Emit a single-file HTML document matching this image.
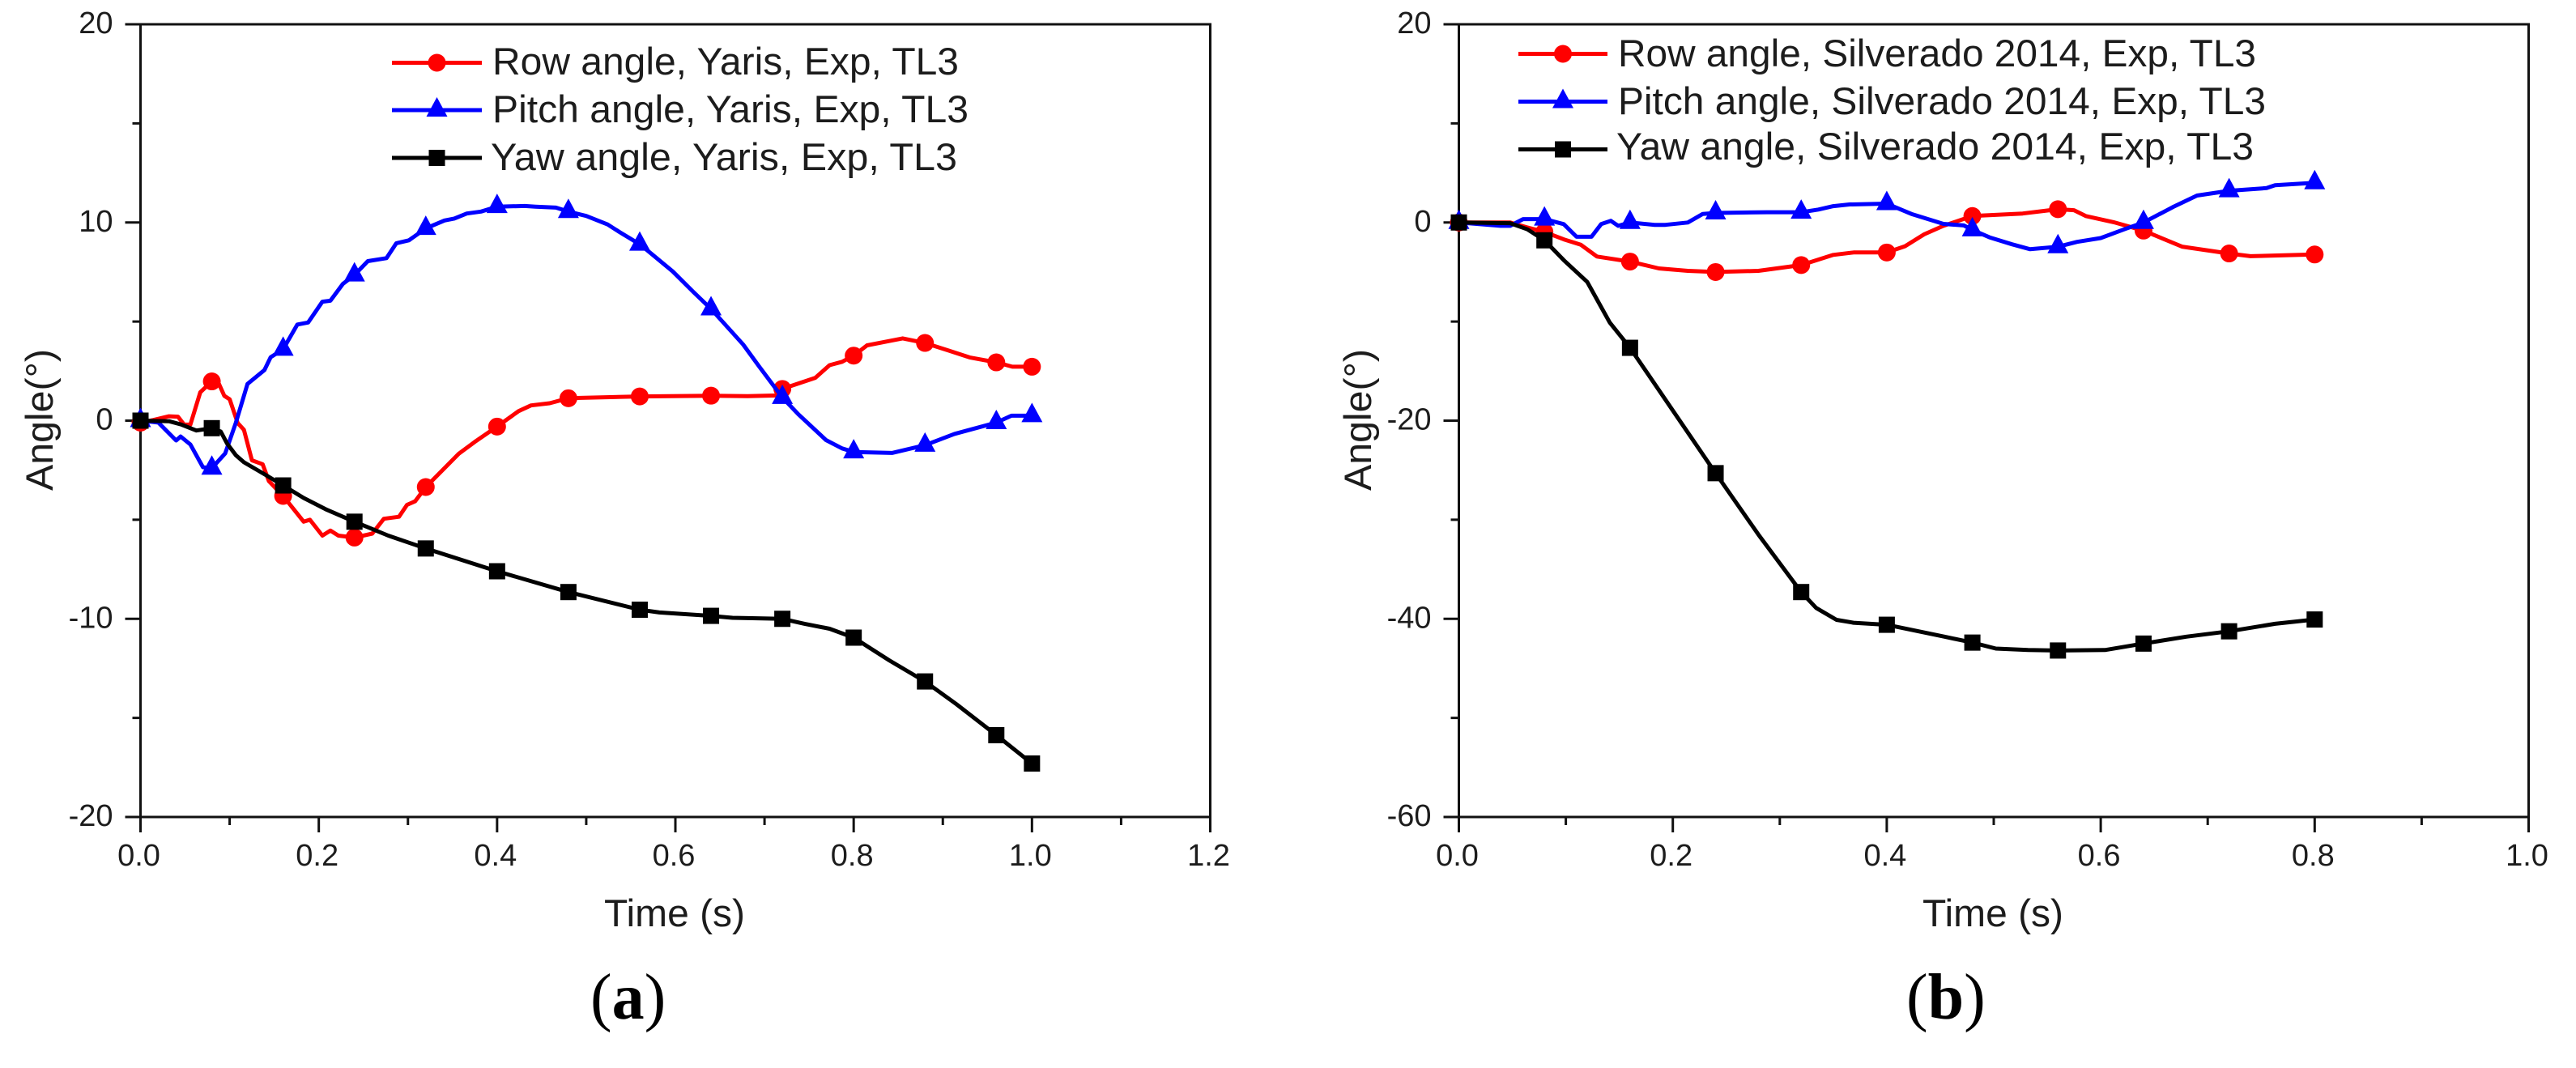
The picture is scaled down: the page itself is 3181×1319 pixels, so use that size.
<!DOCTYPE html>
<html lang="en">
<head>
<meta charset="utf-8">
<title>Row, pitch and yaw angle versus time</title>
<style>
html,body{margin:0;padding:0;background:#fff;width:3181px;height:1319px;overflow:hidden}
svg{display:block;position:absolute;left:0;top:0}
text{font-family:"Liberation Sans",Arial,sans-serif;fill:#1c1c1c}
.panel-label{font-family:"Liberation Serif","Times New Roman",serif;fill:#000}
</style>
</head>
<body>
<svg id="figure" xmlns="http://www.w3.org/2000/svg" width="3181" height="1319" viewBox="0 0 3181 1319">
  <rect x="0" y="0" width="3181" height="1319" fill="#ffffff"/>
  <g id="chart-a"></g>
  <g id="chart-b"></g>
  <text class="panel-label" x="729" y="1258" font-size="80">(<tspan font-weight="bold">a</tspan>)</text>
  <text class="panel-label" x="2354" y="1258" font-size="80">(<tspan font-weight="bold">b</tspan>)</text>
</svg>
<script>
/* ---------- Chart (a): Yaris ---------- */
const yarisXTicks = [0, 0.2, 0.4, 0.6, 0.8, 1.0, 1.2];
const yarisXMinor = [0.1, 0.3, 0.5, 0.7, 0.9, 1.1];
const yarisYTicks = [20, 10, 0, -10, -20];
const yarisYMinor = [15, 5, -5, -15];
const yarisMarkerTimes = [0, 0.08, 0.16, 0.24, 0.32, 0.40, 0.48, 0.56, 0.64, 0.72, 0.80, 0.88, 0.96, 1.0];

const yarisRowT = [0, 0.014, 0.032, 0.042, 0.049, 0.056, 0.067, 0.08, 0.088, 0.094, 0.1, 0.109, 0.116, 0.125, 0.137, 0.144, 0.16, 0.183, 0.19, 0.204, 0.213, 0.222, 0.24, 0.26, 0.273, 0.29, 0.299, 0.308, 0.32, 0.357, 0.375, 0.40, 0.424, 0.438, 0.459, 0.48, 0.56, 0.64, 0.681, 0.714, 0.72, 0.757, 0.773, 0.787, 0.80, 0.815, 0.838, 0.855, 0.88, 0.907, 0.93, 0.96, 0.978, 1.0];
const yarisRowV = [-0.1, 0.03, 0.22, 0.2, -0.2, -0.2, 1.43, 1.98, 1.85, 1.25, 1.08, -0.12, -0.46, -2.0, -2.2, -3.05, -3.8, -5.1, -5.0, -5.8, -5.55, -5.8, -5.9, -5.7, -4.95, -4.85, -4.25, -4.07, -3.35, -1.67, -1.07, -0.3, 0.48, 0.77, 0.88, 1.13, 1.22, 1.26, 1.24, 1.27, 1.6, 2.16, 2.8, 2.97, 3.28, 3.8, 4.0, 4.15, 3.92, 3.53, 3.19, 2.94, 2.72, 2.72];

const yarisPitchT = [0, 0.02, 0.04, 0.045, 0.056, 0.07, 0.08, 0.095, 0.107, 0.12, 0.139, 0.146, 0.16, 0.176, 0.188, 0.204, 0.213, 0.227, 0.24, 0.255, 0.276, 0.287, 0.301, 0.32, 0.341, 0.352, 0.366, 0.382, 0.40, 0.431, 0.443, 0.466, 0.48, 0.50, 0.524, 0.538, 0.56, 0.569, 0.597, 0.62, 0.64, 0.676, 0.694, 0.72, 0.738, 0.769, 0.787, 0.80, 0.843, 0.88, 0.913, 0.96, 0.977, 1.0];
const yarisPitchV = [0, -0.1, -1.0, -0.8, -1.2, -2.35, -2.4, -1.65, -0.1, 1.85, 2.55, 3.2, 3.6, 4.85, 4.95, 6.0, 6.05, 6.9, 7.35, 8.05, 8.2, 8.95, 9.1, 9.7, 10.1, 10.2, 10.45, 10.55, 10.8, 10.83, 10.8, 10.75, 10.55, 10.33, 9.9, 9.5, 8.9, 8.57, 7.53, 6.5, 5.64, 3.84, 2.73, 1.17, 0.32, -0.98, -1.4, -1.58, -1.63, -1.24, -0.67, -0.1, 0.25, 0.25];

const yarisYawT = [0, 0.032, 0.046, 0.0626, 0.08, 0.09, 0.097, 0.107, 0.116, 0.139, 0.16, 0.183, 0.209, 0.24, 0.278, 0.32, 0.40, 0.48, 0.56, 0.582, 0.64, 0.664, 0.72, 0.745, 0.773, 0.80, 0.84, 0.88, 0.915, 0.96, 1.0];
const yarisYawV = [0, -0.03, -0.2, -0.5, -0.38, -0.55, -1.15, -1.75, -2.1, -2.7, -3.27, -3.9, -4.5, -5.1, -5.8, -6.45, -7.6, -8.65, -9.54, -9.68, -9.85, -9.95, -10.0, -10.25, -10.5, -10.95, -12.1, -13.16, -14.3, -15.87, -17.3];

const yarisLegendLabels = ["Row angle, Yaris, Exp, TL3", "Pitch angle, Yaris, Exp, TL3", "Yaw angle, Yaris, Exp, TL3"];

/* ---------- Chart (b): Silverado 2014 ---------- */
const silvXTicks = [0, 0.2, 0.4, 0.6, 0.8, 1.0];
const silvXMinor = [0.1, 0.3, 0.5, 0.7, 0.9];
const silvYTicks = [20, 0, -20, -40, -60];
const silvYMinor = [10, -10, -30, -50];
const silvMarkerTimes = [0, 0.08, 0.16, 0.24, 0.32, 0.40, 0.48, 0.56, 0.64, 0.72, 0.80];

const silvRowT = [0, 0.048, 0.064, 0.08, 0.098, 0.114, 0.129, 0.16, 0.187, 0.214, 0.24, 0.28, 0.32, 0.35, 0.369, 0.40, 0.417, 0.435, 0.453, 0.48, 0.527, 0.56, 0.575, 0.586, 0.612, 0.64, 0.676, 0.72, 0.74, 0.80];
const silvRowV = [0, 0, -0.5, -0.95, -1.7, -2.24, -3.44, -3.95, -4.64, -4.88, -5.0, -4.88, -4.3, -3.27, -3.03, -3.03, -2.4, -1.2, -0.34, 0.65, 0.9, 1.34, 1.24, 0.65, 0.03, -0.82, -2.44, -3.13, -3.4, -3.23];

const silvPitchT = [0, 0.039, 0.048, 0.06, 0.08, 0.098, 0.11, 0.124, 0.133, 0.142, 0.149, 0.16, 0.183, 0.193, 0.214, 0.228, 0.24, 0.288, 0.32, 0.336, 0.35, 0.365, 0.40, 0.423, 0.453, 0.472, 0.48, 0.496, 0.517, 0.534, 0.56, 0.578, 0.6, 0.623, 0.64, 0.668, 0.69, 0.72, 0.755, 0.763, 0.80];
const silvPitchV = [0, -0.34, -0.34, 0.34, 0.34, -0.17, -1.44, -1.44, -0.17, 0.17, -0.34, 0, -0.24, -0.24, 0, 0.86, 0.96, 1.03, 1.03, 1.3, 1.65, 1.82, 1.9, 0.86, -0.14, -0.3, -0.75, -1.5, -2.2, -2.7, -2.45, -1.96, -1.57, -0.65, 0, 1.58, 2.72, 3.2, 3.47, 3.76, 4.0];

const silvYawT = [0, 0.048, 0.064, 0.08, 0.098, 0.12, 0.141, 0.16, 0.24, 0.28, 0.32, 0.334, 0.353, 0.369, 0.40, 0.454, 0.48, 0.502, 0.532, 0.56, 0.604, 0.64, 0.68, 0.72, 0.763, 0.80];
const silvYawV = [0, -0.07, -0.69, -1.8, -3.8, -6.0, -10.1, -12.65, -25.3, -31.5, -37.3, -38.9, -40.1, -40.4, -40.6, -41.8, -42.4, -43.0, -43.15, -43.2, -43.15, -42.5, -41.8, -41.26, -40.5, -40.07];

const silvLegendLabels = ["Row angle, Silverado 2014, Exp, TL3", "Pitch angle, Silverado 2014, Exp, TL3", "Yaw angle, Silverado 2014, Exp, TL3"];

/* ---------- Drawing ---------- */
const SVGNS = "http://www.w3.org/2000/svg";
const INK = "#111111";

function make(parent, tag, attrs) {
  const el = document.createElementNS(SVGNS, tag);
  for (const k in attrs) el.setAttribute(k, attrs[k]);
  parent.appendChild(el);
  return el;
}

function drawMarker(parent, kind, cx, cy, color) {
  let el;
  if (kind === "circle") {
    el = make(parent, "circle", { cx: cx, cy: cy, r: 11, fill: color });
  } else if (kind === "triangle") {
    el = make(parent, "polygon", {
      points: (cx - 13) + "," + (cy + 8) + " " + (cx + 13) + "," + (cy + 8) + " " + cx + "," + (cy - 16),
      fill: color
    });
  } else {
    el = make(parent, "rect", { x: cx - 10, y: cy - 10, width: 20, height: 20, fill: color });
  }
  
  
}

function drawChart(root, cfg) {
  const xPos = t => cfg.x0 + (t - cfg.xMin) * (cfg.x1 - cfg.x0) / (cfg.xMax - cfg.xMin);
  const yPos = v => cfg.y0 + (cfg.yMax - v) * (cfg.y1 - cfg.y0) / (cfg.yMax - cfg.yMin);

  const frame = make(root, "rect", {
    x: cfg.x0, y: cfg.y0, width: cfg.x1 - cfg.x0, height: cfg.y1 - cfg.y0,
    fill: "none", stroke: INK, "stroke-width": 3
  });
  
  

  cfg.xTicks.forEach(t => {
    const px = xPos(t);
    const tick = make(root, "line", { x1: px, x2: px, y1: cfg.y1, y2: cfg.y1 + 19, stroke: INK, "stroke-width": 3 });
    
    
    const label = make(root, "text", { x: px - 2, y: cfg.y1 + 60, "font-size": 38, "text-anchor": "middle" });
    label.textContent = t.toFixed(1);
    
    
  });
  cfg.xMinor.forEach(t => {
    const px = xPos(t);
    const tick = make(root, "line", { x1: px, x2: px, y1: cfg.y1, y2: cfg.y1 + 10, stroke: INK, "stroke-width": 3 });
    
    
  });
  cfg.yTicks.forEach(v => {
    const py = yPos(v);
    const tick = make(root, "line", { x1: cfg.x0 - 19, x2: cfg.x0, y1: py, y2: py, stroke: INK, "stroke-width": 3 });
    
    
    const label = make(root, "text", { x: cfg.x0 - 34, y: py + 11, "font-size": 38, "text-anchor": "end" });
    label.textContent = String(v);
    
    
  });
  cfg.yMinor.forEach(v => {
    const py = yPos(v);
    const tick = make(root, "line", { x1: cfg.x0 - 10, x2: cfg.x0, y1: py, y2: py, stroke: INK, "stroke-width": 3 });
    
    
  });

  const xTitle = make(root, "text", {
    x: cfg.xTitleX, y: 1144, "font-size": 47,
    textLength: 174, lengthAdjust: "spacingAndGlyphs"
  });
  xTitle.textContent = "Time (s)";
  
  

  const yTitle = make(root, "text", {
    transform: "translate(" + cfg.yTitleX + " 606) rotate(-90)", x: 0, y: 0, "font-size": 47,
    textLength: 175, lengthAdjust: "spacingAndGlyphs"
  });
  yTitle.textContent = "Angle(\u00B0)";
  
  

  cfg.series.forEach(s => {
    const group = make(root, "g", {});
    
    
    const pts = s.t.map((t, i) => xPos(t).toFixed(1) + "," + yPos(s.v[i]).toFixed(1)).join(" ");
    const line = make(group, "polyline", {
      points: pts, fill: "none", stroke: s.color, "stroke-width": 5,
      "stroke-linejoin": "round", "stroke-linecap": "butt"
    });
    
    
    cfg.markerTimes.forEach(mt => {
      let best = 0;
      s.t.forEach((t, i) => { if (Math.abs(t - mt) < Math.abs(s.t[best] - mt)) best = i; });
      drawMarker(group, s.marker, xPos(mt), yPos(s.v[best]), s.color);
    });
  });

  const legend = make(root, "g", {});
  
  
  cfg.series.forEach((s, i) => {
    const row = cfg.legend[i];
    const entry = make(legend, "g", {});
    
    
    const sw = make(entry, "line", { x1: cfg.legendX0, x2: cfg.legendX1, y1: row.lineY, y2: row.lineY, stroke: s.color, "stroke-width": 5 });
    
    
    drawMarker(entry, s.marker, (cfg.legendX0 + cfg.legendX1) / 2, row.lineY, s.color);
    const text = make(entry, "text", {
      x: row.textX, y: row.baseY, "font-size": 47,
      textLength: row.textW, lengthAdjust: "spacingAndGlyphs"
    });
    text.textContent = cfg.legendLabels[i];
    
    
  });
}

drawChart(document.getElementById("chart-a"), {
  x0: 173.5, x1: 1494.5, y0: 30, y1: 1009,
  xMin: 0, xMax: 1.2, yMin: -20, yMax: 20,
  xTicks: yarisXTicks, xMinor: yarisXMinor, yTicks: yarisYTicks, yMinor: yarisYMinor,
  markerTimes: yarisMarkerTimes,
  xTitleX: 746, yTitleX: 65,
  legendX0: 484, legendX1: 595,
  legendLabels: yarisLegendLabels,
  legend: [
    { lineY: 77.5, baseY: 92, textX: 608, textW: 576 },
    { lineY: 136, baseY: 151, textX: 608, textW: 588 },
    { lineY: 195, baseY: 210, textX: 606, textW: 576 }
  ],
  series: [
    { name: "row-angle-series", t: yarisRowT, v: yarisRowV, color: "#ff0000", marker: "circle" },
    { name: "pitch-angle-series", t: yarisPitchT, v: yarisPitchV, color: "#0000ff", marker: "triangle" },
    { name: "yaw-angle-series", t: yarisYawT, v: yarisYawV, color: "#000000", marker: "square" }
  ]
});

drawChart(document.getElementById("chart-b"), {
  x0: 1801.5, x1: 3122.5, y0: 30, y1: 1009,
  xMin: 0, xMax: 1.0, yMin: -60, yMax: 20,
  xTicks: silvXTicks, xMinor: silvXMinor, yTicks: silvYTicks, yMinor: silvYMinor,
  markerTimes: silvMarkerTimes,
  xTitleX: 2374, yTitleX: 1693,
  legendX0: 1875, legendX1: 1985,
  legendLabels: silvLegendLabels,
  legend: [
    { lineY: 66.5, baseY: 82, textX: 1998, textW: 788 },
    { lineY: 125.5, baseY: 141, textX: 1998, textW: 800 },
    { lineY: 184.5, baseY: 197, textX: 1996, textW: 787 }
  ],
  series: [
    { name: "row-angle-series", t: silvRowT, v: silvRowV, color: "#ff0000", marker: "circle" },
    { name: "pitch-angle-series", t: silvPitchT, v: silvPitchV, color: "#0000ff", marker: "triangle" },
    { name: "yaw-angle-series", t: silvYawT, v: silvYawV, color: "#000000", marker: "square" }
  ]
});
</script>
</body>
</html>
